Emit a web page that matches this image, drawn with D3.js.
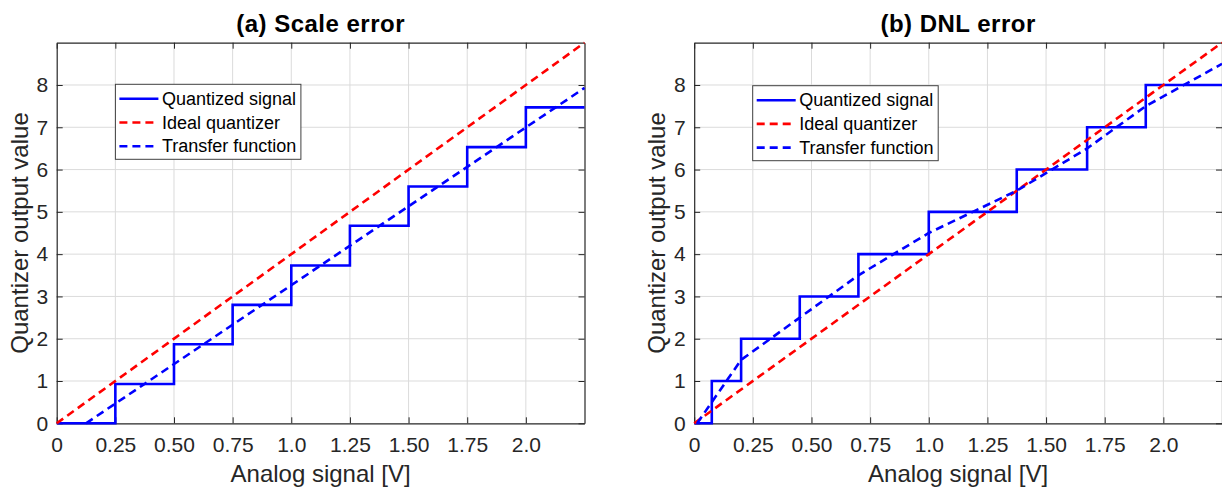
<!DOCTYPE html>
<html>
<head>
<meta charset="utf-8">
<script src="https://cdn.jsdelivr.net/npm/d3@7"></script>
<style>
  html, body { margin: 0; padding: 0; background: #ffffff; }
  svg { display: block; font-family: "Liberation Sans", Arial, Helvetica, sans-serif; }
</style>
</head>
<body>
<svg id="chart" width="1222" height="488"></svg>
<script>
// ---------- data ----------
const xTickValues = [0, 0.25, 0.5, 0.75, 1.0, 1.25, 1.5, 1.75, 2.0];
const xTickLabels = ["0", "0.25", "0.50", "0.75", "1.0", "1.25", "1.50", "1.75", "2.0"];
const yTickValues = [0, 1, 2, 3, 4, 5, 6, 7, 8];
const xDomain = [0, 2.25];
const yDomain = [0, 9];

const legendLabels = ["Quantized signal", "Ideal quantizer", "Transfer function"];

// ideal quantizer (both panels)
const idealX = [0, 2.25];
const idealY = [0, 9];

// (a) Scale error
const scaleStepX = [0, 0.25, 0.5, 0.75, 1.0, 1.25, 1.5, 1.75, 2.0, 2.25];
const scaleStepY = [0, 0.93, 1.87, 2.8, 3.73, 4.67, 5.6, 6.53, 7.47, 7.47];
const scaleTransferX = [0.125, 2.25];
const scaleTransferY = [0, 7.93];

// (b) DNL error
const dnlStepX = [0, 0.075, 0.2, 0.45, 0.7, 1.0, 1.375, 1.675, 1.925, 2.25];
const dnlStepY = [0, 1, 2, 3, 4, 5, 6, 7, 8, 8];
const dnlTransferX = [0.0125, 0.075, 0.2, 0.45, 0.7, 1.0, 1.375, 1.675, 1.925, 2.25];
const dnlTransferY = [0, 0.5, 1.5, 2.5, 3.5, 4.5, 5.5, 6.5, 7.5, 8.5];

const panels = [
  { title: "(a) Scale error", left: 56.7, stepX: scaleStepX, stepY: scaleStepY, tfX: scaleTransferX, tfY: scaleTransferY },
  { title: "(b) DNL error",   left: 694.2, stepX: dnlStepX, stepY: dnlStepY, tfX: dnlTransferX, tfY: dnlTransferY }
];

// ---------- drawing ----------
const svg = d3.select("#chart");
const W = 527.8, plotTop = 42.7, plotBottom = 423.3, H = plotBottom - plotTop;
const axisColor = "#262626";
const gridColor = "#dbdbdb";
const BLUE = "#0000ff", RED = "#ff0000";

const zip = (xs, ys) => xs.map((x, i) => [x, ys[i]]);

panels.forEach((p, pi) => {
  const x = d3.scaleLinear().domain(xDomain).range([0, W]);
  const y = d3.scaleLinear().domain(yDomain).range([H, 0]);
  const g = svg.append("g").attr("transform", `translate(${p.left},${plotTop})`);

  const clipId = "clip" + pi;
  g.append("clipPath").attr("id", clipId)
    .append("rect").attr("x", -2).attr("y", -2).attr("width", W + 4).attr("height", H + 4);

  // grid
  g.append("g").selectAll("line").data(xTickValues.filter(v => v > 0)).join("line")
    .attr("x1", d => x(d)).attr("x2", d => x(d)).attr("y1", 0).attr("y2", H)
    .attr("stroke", gridColor).attr("stroke-width", 1);
  g.append("g").selectAll("line").data(yTickValues.filter(v => v > 0)).join("line")
    .attr("x1", 0).attr("x2", W).attr("y1", d => y(d)).attr("y2", d => y(d))
    .attr("stroke", gridColor).attr("stroke-width", 1);

  // axes (ticks inward)
  const xAxis = d3.axisBottom(x).tickValues(xTickValues)
    .tickFormat((d, i) => xTickLabels[i]).tickSizeInner(-6).tickSizeOuter(0).tickPadding(14);
  const xAxisTop = d3.axisTop(x).tickValues(xTickValues).tickFormat("").tickSizeInner(-6).tickSizeOuter(0);
  const yAxis = d3.axisLeft(y).tickValues(yTickValues).tickFormat(d3.format("d"))
    .tickSizeInner(-6).tickSizeOuter(0).tickPadding(8.5);
  const yAxisRight = d3.axisRight(y).tickValues(yTickValues).tickFormat("").tickSizeInner(-6).tickSizeOuter(0);

  const gx = g.append("g").attr("transform", `translate(0,${H})`).call(xAxis);
  const gxt = g.append("g").call(xAxisTop);
  const gy = g.append("g").call(yAxis);
  const gyr = g.append("g").attr("transform", `translate(${W},0)`).call(yAxisRight);
  [gx, gxt, gy, gyr].forEach(a => {
    a.selectAll("path.domain").attr("stroke", axisColor).attr("stroke-width", 1.2);
    a.selectAll(".tick line").attr("stroke", axisColor).attr("stroke-width", 1);
    a.selectAll(".tick text").attr("fill", axisColor).style("font-size", "21px")
      .style("font-family", "'Liberation Sans', Arial, sans-serif");
  });

  // titles and labels
  g.append("text").attr("x", W / 2).attr("y", -10.5).attr("text-anchor", "middle")
    .style("font-size", "24px").style("font-weight", "bold").style("letter-spacing", "0.5px")
    .attr("fill", "#000").text(p.title);
  g.append("text").attr("x", W / 2).attr("y", H + 59).attr("text-anchor", "middle")
    .style("font-size", "24px").attr("fill", axisColor).text("Analog signal [V]");
  g.append("text").attr("transform", `translate(-29,${H / 2}) rotate(-90)`).attr("text-anchor", "middle")
    .style("font-size", "24px").attr("fill", axisColor).text("Quantizer output value");

  // data
  const plot = g.append("g").attr("clip-path", `url(#${clipId})`);
  const stepLine = d3.line().x(d => x(d[0])).y(d => y(d[1])).curve(d3.curveStepAfter);
  const line = d3.line().x(d => x(d[0])).y(d => y(d[1]));

  plot.append("path").datum(zip(p.stepX, p.stepY)).attr("d", stepLine)
    .attr("fill", "none").attr("stroke", BLUE).attr("stroke-width", 2.6);
  plot.append("path").datum(zip(idealX, idealY)).attr("d", line)
    .attr("fill", "none").attr("stroke", RED).attr("stroke-width", 2.6).attr("stroke-dasharray", "8,5");
  plot.append("path").datum(zip(p.tfX, p.tfY)).attr("d", line)
    .attr("fill", "none").attr("stroke", BLUE).attr("stroke-width", 2.6).attr("stroke-dasharray", "8,5");

  // legend
  const lg = g.append("g").attr("transform", `translate(${pi === 0 ? 58.7 : 58.5},${pi === 0 ? 41.6 : 43})`);
  lg.append("rect").attr("x", 0).attr("y", 0).attr("width", 185.5).attr("height", 75)
    .attr("fill", "#fff").attr("stroke", "#404040").attr("stroke-width", 1);
  const styles = [
    { color: BLUE, dash: null },
    { color: RED, dash: "8,5" },
    { color: BLUE, dash: "8,5" }
  ];
  legendLabels.forEach((lab, i) => {
    const yy = 14.5 + i * 23.7;
    lg.append("line").attr("x1", 4).attr("x2", 43).attr("y1", yy).attr("y2", yy)
      .attr("stroke", styles[i].color).attr("stroke-width", 2.6)
      .attr("stroke-dasharray", styles[i].dash);
    lg.append("text").attr("x", 46.5).attr("y", yy).attr("dy", "0.35em")
      .style("font-size", "18px").attr("fill", "#000").text(lab);
  });
});
</script>
</body>
</html>
